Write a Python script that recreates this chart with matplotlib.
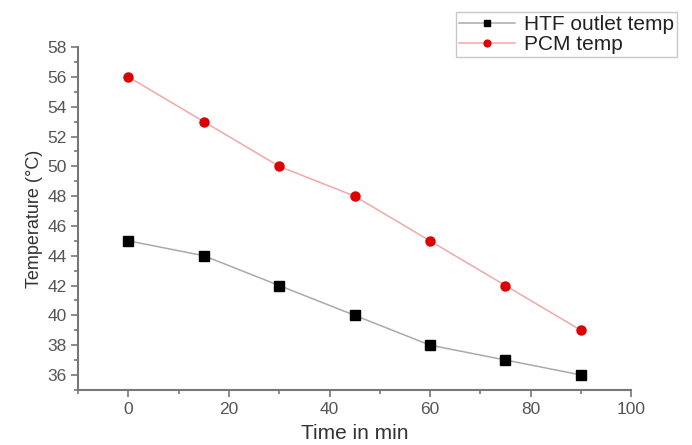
import matplotlib
matplotlib.use('Agg')
import matplotlib.pyplot as plt
from matplotlib.ticker import MultipleLocator

tempo = [0, 15, 30, 45, 60, 75, 90]
htf_saida = [45, 44, 42, 40, 38, 37, 36]
pcm = [56, 53, 50, 48, 45, 42, 39]

cinza = '#555555'
plt.rcParams['font.family'] = ['Liberation Sans', 'DejaVu Sans']

fig = plt.figure(figsize=(6.92, 4.45), dpi=100)
ax = fig.add_axes([0.113, 0.124, 0.799, 0.77])

ax.plot(tempo, htf_saida, color='#aaaaaa', lw=1.1, marker='s', ms=6.5,
        mfc='black', mec='black', label='HTF outlet temp')
ax.plot(tempo, pcm, color='#f0a8a8', lw=1.1, marker='o', ms=6.5,
        mfc='#dd0000', mec='#dd0000', label='PCM temp')

ax.set_xlim(-10, 100)
ax.set_ylim(35, 58)
ax.xaxis.set_major_locator(MultipleLocator(20))
ax.xaxis.set_minor_locator(MultipleLocator(10))
ax.yaxis.set_minor_locator(MultipleLocator(1))
ax.set_yticks(range(36, 59, 2))

for lado in ['top', 'right']:
    ax.spines[lado].set_visible(False)
for lado in ['left', 'bottom']:
    ax.spines[lado].set_color('#777777')
    ax.spines[lado].set_linewidth(1.5)
ax.tick_params(which='both', direction='out', colors='#777777', width=1.2,
               labelcolor=cinza, labelsize=12.5)
ax.tick_params(which='major', length=5)
ax.tick_params(which='minor', length=3)

ax.set_xlabel('Time in min', fontsize=15, color='#333333', labelpad=5)
ax.set_ylabel('Temperature (°C)', fontsize=13, color='#333333', labelpad=3)

fig.legend(loc='upper right', bbox_to_anchor=(0.993, 0.997), fontsize=15,
           frameon=True, fancybox=False, edgecolor='#bbbbbb',
           handlelength=2.7, borderpad=0.15, labelspacing=0.05,
           handletextpad=0.4, labelcolor='#222222', markerscale=0.75)

fig.savefig('out.png', dpi=100)
